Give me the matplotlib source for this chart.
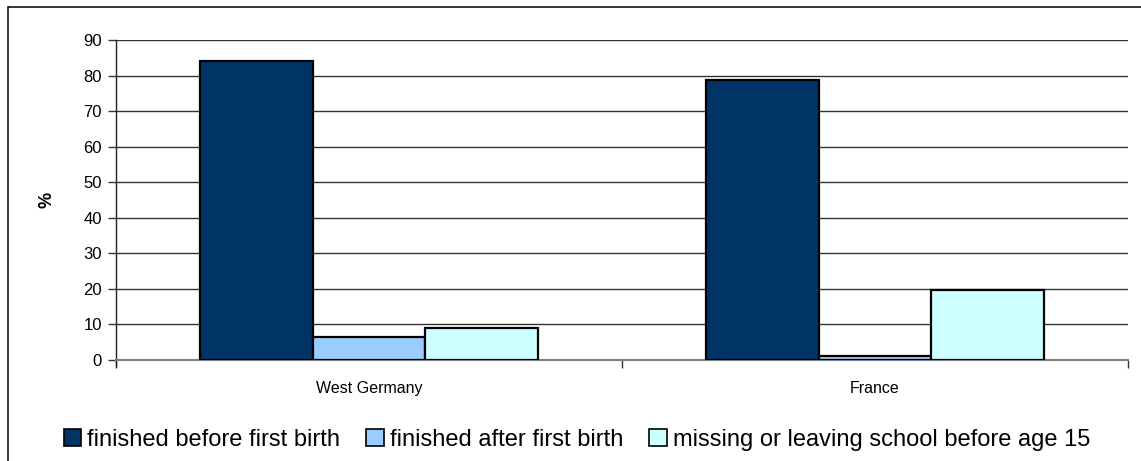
import matplotlib
matplotlib.use("Agg")
import matplotlib.pyplot as plt
from matplotlib.patches import Rectangle, Patch
import numpy as np

plt.rcParams['font.family'] = ['Liberation Sans', 'DejaVu Sans']

countries = ["West Germany", "France"]
series_names = [
    "finished before first birth",
    "finished after first birth",
    "missing or leaving school before age 15",
]
before_birth = [84.2, 78.8]
after_birth = [6.5, 1.2]
missing_or_left = [9.0, 19.7]
series_values = [before_birth, after_birth, missing_or_left]
series_colors = ["#003366", "#99ccff", "#ccffff"]
y_ticks = [0, 10, 20, 30, 40, 50, 60, 70, 80, 90]

W, H = 1141, 461
fig = plt.figure(figsize=(W / 100, H / 100), dpi=100)

# outer chart-area frame (runs off the right and bottom edges)
fig.patches.append(Rectangle((8 / W, -0.05), 1.2, (H - 7) / H + 0.05,
                             transform=fig.transFigure, fill=False,
                             edgecolor="black", linewidth=1.1, zorder=0))

ax = fig.add_axes([116 / W, (H - 360) / H, (1128 - 116) / W, 320 / H])

x = np.arange(len(countries))
width = 1 / 4.5
handles = []
for i, (vals, col, name) in enumerate(zip(series_values, series_colors, series_names)):
    ax.bar(x + (i - 1) * width, vals, width=width, color=col,
           edgecolor="black", linewidth=1.6, zorder=3)
    handles.append(Patch(facecolor=col, edgecolor="black", linewidth=1.2, label=name))

ax.set_xlim(-0.5, 1.5)
ax.set_ylim(0, 90)
ax.set_yticks(y_ticks)
ax.set_yticklabels([str(t) for t in y_ticks], fontsize=12)
ax.yaxis.grid(True, color="#333333", linewidth=1.0, zorder=0)
ax.set_axisbelow(True)

# category ticks sit between the groups
ax.set_xticks([-0.5, 0.5, 1.5])
ax.set_xticklabels([])
ax.set_xticks(x, minor=True)
ax.set_xticklabels(countries, minor=True, fontsize=11.5)
ax.tick_params(axis="x", which="minor", length=0, pad=15)
ax.tick_params(axis="x", which="major", length=6, width=1, color="#333333")
ax.tick_params(axis="y", length=6, width=1, color="#333333", pad=4)

for side in ("top", "right"):
    ax.spines[side].set_visible(False)
ax.spines["left"].set_color("#222222")
ax.spines["left"].set_linewidth(1.0)
ax.spines["left"].set_bounds(-1.8, 90)
ax.spines["bottom"].set_color("#808080")
ax.spines["bottom"].set_linewidth(1.5)
ax.spines["left"].set_clip_on(False)

ax.set_ylabel("%", fontsize=13, fontweight="bold", labelpad=20)

fig.legend(handles=handles, loc="center", bbox_to_anchor=(577 / W, (H - 440) / H),
           ncol=3, frameon=False, fontsize=17, handlelength=0.75,
           handleheight=0.75, handletextpad=0.25, columnspacing=1.1,
           borderaxespad=0)

fig.savefig("out.png", dpi=100)
